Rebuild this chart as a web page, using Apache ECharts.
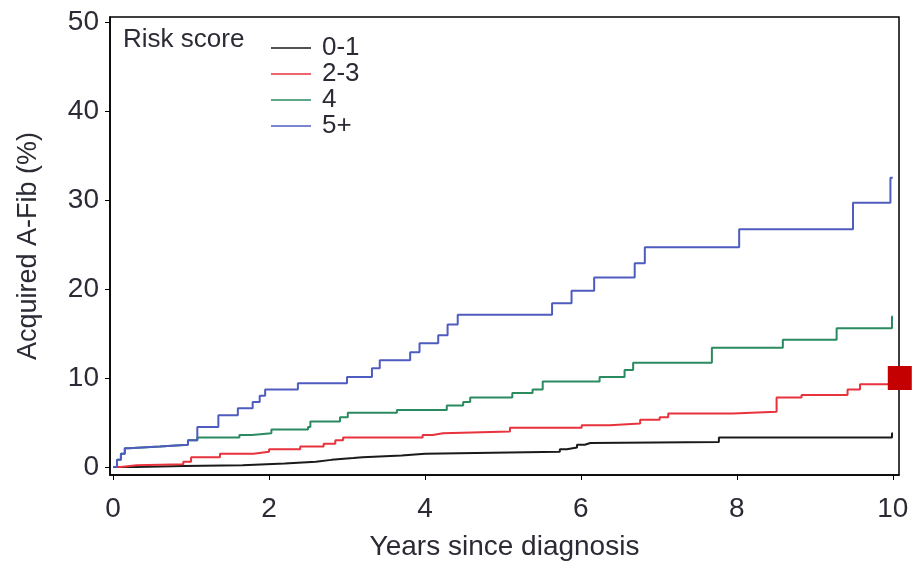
<!DOCTYPE html>
<html>
<head>
<meta charset="utf-8">
<script src="https://cdn.jsdelivr.net/npm/echarts@6/dist/echarts.min.js"></script>
<style>html,body{margin:0;padding:0;background:#fff}#c{width:912px;height:563px}</style>
</head>
<body>
<div id="c"></div>
<script>
// Step curves: [years since diagnosis, cumulative % from that time on]
const score01 = [[0,0],[0.3,0.1],[0.9,0.2],[1.66,0.4],[2.2,0.6],[2.6,0.8],[2.8,1.0],[3.08,1.1],[3.2,1.3],[3.7,1.5],[4.0,1.7],[5.73,2.0],[5.82,2.2],[5.95,2.5],[6.05,2.7],[6.12,2.8],[7.77,3.3],[9.99,3.8],[10.0,3.8]];
const score23 = [[0,0],[0.1,0.2],[0.3,0.3],[0.9,0.6],[1.0,1.1],[1.37,1.5],[1.8,1.7],[2.0,2.0],[2.4,2.3],[2.7,2.6],[2.85,3.0],[2.95,3.3],[3.97,3.6],[4.1,3.8],[4.23,4.0],[5.09,4.4],[6.01,4.7],[6.37,4.9],[6.76,5.3],[7.01,5.6],[7.12,6.0],[7.95,6.2],[8.51,7.8],[8.83,8.1],[9.42,8.7],[9.58,9.3],[10.0,9.6]];
const score4 = [[0,0],[0.05,0.8],[0.1,1.5],[0.15,2.1],[0.2,2.3],[0.6,2.5],[0.96,3.0],[1.08,3.3],[1.62,3.6],[1.78,3.8],[2.03,4.2],[2.5,4.5],[2.53,5.1],[2.91,5.6],[3.01,6.1],[3.64,6.4],[4.28,6.9],[4.49,7.3],[4.58,7.8],[5.12,8.3],[5.38,8.7],[5.51,9.6],[6.24,10.1],[6.56,10.9],[6.67,11.7],[7.68,13.4],[8.59,14.3],[9.28,15.6],[9.99,16.9],[10.0,16.9]];
const score5p = [[0,0],[0.05,0.8],[0.1,1.5],[0.15,2.1],[0.2,2.3],[0.6,2.5],[0.96,3.0],[1.08,4.5],[1.35,5.8],[1.6,6.6],[1.79,7.3],[1.88,8.0],[1.95,8.7],[2.37,9.4],[3.0,10.1],[3.32,11.1],[3.42,12.0],[3.81,12.9],[3.93,13.9],[4.17,14.8],[4.29,16.0],[4.42,17.1],[5.63,18.4],[5.88,19.8],[6.17,21.3],[6.69,22.9],[6.82,24.7],[8.03,26.7],[9.49,29.7],[9.97,32.5],[10.0,32.5]];
const seriesNames = ['0-1','2-3','4','5+'];
const xTicks = [0,2,4,6,8,10];
const yTicks = [0,10,20,30,40,50];
const redMarker = [[10.09, 10.0]];

const colors = ['#1a1a1a','#e8323c','#2a8a60','#4f5cbf'];
const dataSets = [score01, score23, score4, score5p];
const txt = '#2b2b35';
const font = 'Liberation Sans, Arial, sans-serif';

const chart = echarts.init(document.getElementById('c'), null, {renderer:'canvas'});
const series = dataSets.map((d,i)=>({
  name: seriesNames[i], type:'line', step:'end', data:d, symbol:'none',
  lineStyle:{color:colors[i], width:2}, itemStyle:{color:colors[i]},
  z: 2 + (i===1?0:i),
  animation:false
}));
series.push({
  name:'marker', type:'scatter', data:redMarker, symbol:'rect', symbolSize:24,
  clip:false, silent:true, itemStyle:{color:'#c40000', opacity:1}, z:10, animation:false
});

chart.setOption({
  animation:false,
  backgroundColor:'#fff',
  textStyle:{fontFamily:font},
  title:{text:'Risk score', left:118, top:22, textStyle:{fontFamily:font, fontSize:26, fontWeight:'normal', color:txt}},
  legend:{
    data:seriesNames, orient:'vertical', left:266, top:30, itemGap:0,
    itemWidth:40, itemHeight:14, icon:'path://M0,0 L40,0 L40,1.5 L0,1.5 Z',
    textStyle:{fontFamily:font, fontSize:26, color:txt, lineHeight:26, padding:[0,0,0,6]},
    selectedMode:false
  },
  grid:{left:110, right:13, top:17, bottom:88, show:true, borderColor:'#000', borderWidth:1.5, outerBoundsMode:'none', containLabel:false},
  xAxis:{
    type:'value', min:-0.04, max:10.08,
    name:'Years since diagnosis', nameLocation:'middle', nameGap:58,
    nameTextStyle:{fontFamily:font, fontSize:28, color:txt},
    axisLine:{show:true, onZero:false, lineStyle:{color:'#000', width:1.5}},
    axisTick:{show:true, length:5, customValues:xTicks, lineStyle:{color:'#000'}},
    axisLabel:{customValues:xTicks, fontFamily:font, fontSize:28, color:txt, margin:20},
    splitLine:{show:false}
  },
  yAxis:{
    type:'value', min:-0.9, max:50.56,
    name:'Acquired A-Fib (%)', nameLocation:'middle', nameGap:68, nameRotate:90,
    nameTextStyle:{fontFamily:font, fontSize:27, color:txt},
    axisLine:{show:true, onZero:false, lineStyle:{color:'#000', width:1.5}},
    axisTick:{show:true, length:5, customValues:yTicks, lineStyle:{color:'#000'}},
    axisLabel:{customValues:yTicks, fontFamily:font, fontSize:28, color:txt, margin:11},
    splitLine:{show:false}
  },
  series: series
});
</script>
</body>
</html>
